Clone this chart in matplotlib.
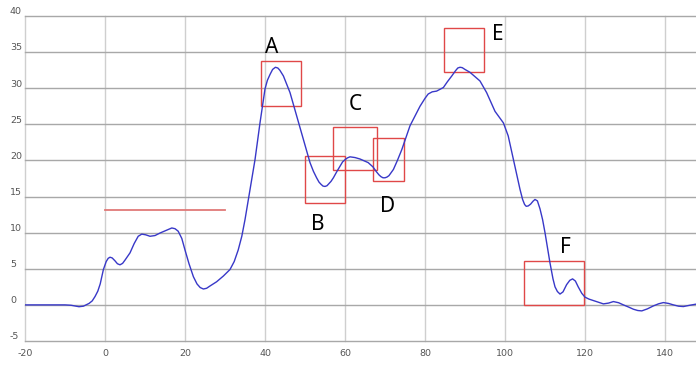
import matplotlib
matplotlib.use("Agg")
import matplotlib.pyplot as plt
import matplotlib.transforms as mtransforms
from matplotlib.patches import Rectangle

# ---- data ----
curve_x = [-20, -15, -10, -8.5, -6.5, -5.4, -4, -3.2, -2.5, -1.8, -1.2, -0.4, 0.3, 0.8, 1.25,
           1.8, 2.5, 3.1, 3.75, 4.4, 5, 6.25, 7.3, 8.3, 9.2, 10.2, 11.25, 12.5, 13.75, 15.2,
           16.0, 16.7, 17.5, 18.3, 19.2, 20, 21, 22.1, 23.0, 23.8, 24.6, 25.4, 26.2, 27.9,
           29.6, 31.25, 32.3, 33.3, 34.2, 35, 35.6, 36.25, 37.5, 38.75, 39.5, 40, 40.6, 41.25,
           41.9, 42.6, 43.2, 43.7, 44.6, 45.4, 46.25, 47.9, 49.6, 51.25, 52.1, 52.9, 53.5, 54,
           54.5, 55, 55.5, 56, 56.5, 57.1, 58, 58.75, 59.4, 60, 60.6, 61.25, 62.5, 63.75,
           65.8, 67.0, 67.9, 68.5, 69, 69.5, 70, 70.5, 71, 72.1, 73.1, 74.2, 76.25, 78.75,
           80.0, 80.8, 81.8, 82.9, 84.6, 85.6, 86.7, 87.6, 88.2, 88.75, 89.3, 90, 91.25,
           93.75, 95.4, 97.5, 99.6, 100.8, 101.6, 102.5, 103.75, 104.4, 104.9, 105.3, 105.8,
           106.4, 107.0, 107.5, 108.1, 108.75, 109.4, 110, 111.25, 112.0, 112.5, 113.1,
           113.75, 114.5, 115.4, 116.2, 116.9, 117.6, 118.3, 119.2, 120, 121.0, 122.1,
           123.4, 124.6, 125.9, 127.1, 128.4, 129.6, 130.9, 132.1, 133.2, 134.2, 135.6,
           137.1, 138.4, 139.6, 140.9, 142.1, 143.4, 144.6, 146.2, 147.75]
curve_y = [0.0, 0.0, 0.0, -0.05, -0.25, -0.18, 0.2, 0.55, 1.15, 1.9, 2.9, 4.9, 6.0, 6.45, 6.6,
           6.5, 6.1, 5.7, 5.55, 5.75, 6.2, 7.2, 8.5, 9.5, 9.8, 9.7, 9.5, 9.6, 9.95, 10.3,
           10.5, 10.65, 10.55, 10.2, 9.2, 7.6, 5.7, 3.9, 2.9, 2.4, 2.2, 2.3, 2.6, 3.2,
           4.0, 4.9, 6.0, 7.6, 9.5, 11.8, 13.8, 16.0, 20.1, 25.2, 28.0, 29.9, 31.1, 31.9,
           32.6, 32.9, 32.8, 32.5, 31.7, 30.6, 29.4, 26.2, 22.9, 19.7, 18.5, 17.6, 17.0, 16.7,
           16.45, 16.4, 16.5, 16.8, 17.1, 17.6, 18.5, 19.2, 19.8, 20.1, 20.35, 20.5, 20.4, 20.2,
           19.7, 19.1, 18.4, 18.0, 17.75, 17.6, 17.6, 17.7, 17.9, 18.75, 20.0, 21.5, 24.8, 27.5,
           28.6, 29.2, 29.5, 29.6, 30.1, 30.9, 31.7, 32.4, 32.8, 32.9, 32.85, 32.6, 32.2,
           31.0, 29.4, 26.8, 25.2, 23.4, 21.4, 19.2, 16.0, 14.6, 13.9, 13.65, 13.7,
           13.95, 14.35, 14.6, 14.4, 13.3, 11.8, 10.0, 5.8, 3.6, 2.5, 1.85,
           1.5, 1.8, 2.8, 3.4, 3.6, 3.3, 2.5, 1.6, 1.07, 0.8, 0.6,
           0.35, 0.14, 0.25, 0.46, 0.3, 0.0, -0.3, -0.6, -0.78, -0.83, -0.55,
           -0.14, 0.15, 0.32, 0.2, 0.0, -0.18, -0.23, -0.05, 0.1]

ref_line_x = [0, 30]
ref_line_y = [13.1, 13.1]

box_labels = ["A", "B", "C", "D", "E", "F"]
box_x0 = [39, 50, 57, 67, 84.8, 104.8]
box_x1 = [49, 60, 68, 74.8, 94.8, 119.8]
box_y0 = [27.6, 14.1, 18.7, 17.1, 32.2, 0.0]
box_y1 = [33.7, 20.6, 24.6, 23.1, 38.3, 6.1]
label_x = [41.75, 53.25, 62.5, 70.75, 98.25, 115]
label_y = [35.7, 11.1, 27.8, 13.6, 37.5, 7.9]

x_ticks = [-20, 0, 20, 40, 60, 80, 100, 120, 140]
y_ticks = [-5, 0, 5, 10, 15, 20, 25, 30, 35, 40]

# ---- figure ----
W, H = 696, 365
fig = plt.figure(figsize=(W / 100, H / 100), dpi=100)
fig.patch.set_facecolor("white")
ax = fig.add_axes([25 / W, (H - 341) / H, (W - 25) / W, (341 - 16) / H])
ax.set_xlim(-20, 147.75)
ax.set_ylim(-5, 40)
for s in ax.spines.values():
    s.set_visible(False)
ax.set_xticks(x_ticks)
ax.set_yticks(y_ticks)
ax.tick_params(length=0, labelleft=False, labelbottom=False)
ax.xaxis.grid(True, color="#cfcfcf", lw=1.0)
ax.yaxis.grid(True, color="#a8a8a8", lw=1.0)
ax.set_axisbelow(True)
for ln in ax.get_xgridlines() + ax.get_ygridlines():
    ln.set_clip_on(False)

tick_font = dict(family=["Liberation Sans Narrow", "DejaVu Sans"], fontsize=6.8, color="#555555")
ytr = mtransforms.blended_transform_factory(fig.transFigure, ax.transData)
for v in y_ticks:
    ax.text(10 / W, v, str(v), transform=ytr + mtransforms.ScaledTranslation(0, 3 / 72, fig.dpi_scale_trans),
            ha="left", va="center", clip_on=False, **tick_font)
xtr = mtransforms.blended_transform_factory(ax.transData, fig.transFigure)
for v in x_ticks:
    ax.text(v, (H - 353) / H, str(v), transform=xtr, ha="center", va="center",
            clip_on=False, **tick_font)

ax.plot(curve_x, curve_y, color="#3838c8", lw=1.0, solid_joinstyle="round", antialiased=True)
ax.plot(ref_line_x, ref_line_y, color="#e07a78", lw=1.3)

for lab, x0, x1, y0, y1, lx, ly in zip(box_labels, box_x0, box_x1, box_y0, box_y1, label_x, label_y):
    ax.add_patch(Rectangle((x0, y0), x1 - x0, y1 - y0, fill=False, ec="#e04848", lw=1.0))
    ax.text(lx, ly, lab, ha="center", va="center", fontsize=15, color="black",
            family=["Noto Sans", "DejaVu Sans"], clip_on=False)

fig.savefig("out.png", dpi=100, facecolor="white")
